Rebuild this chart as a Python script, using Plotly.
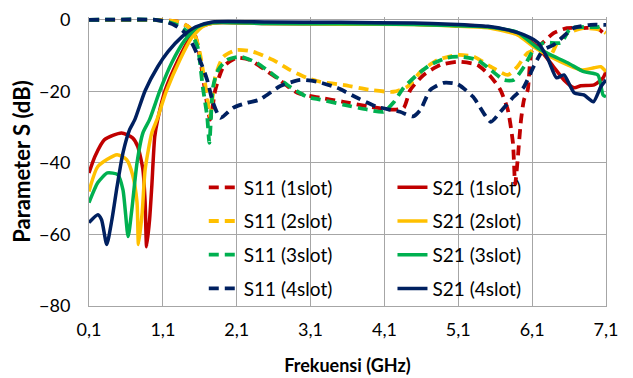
import plotly.graph_objects as go

# ---------------- data ----------------
tick_vals = [0.1, 1.1, 2.1, 3.1, 4.1, 5.1, 6.1, 7.1]
tick_text = ["0,1", "1,1", "2,1", "3,1", "4,1", "5,1", "6,1", "7,1"]
y_ticks = [0, -20, -40, -60, -80]

f_s11_1 = [0.1, 0.5, 1.0, 1.3, 1.45, 1.54, 1.6, 1.67, 1.74, 1.81, 1.92, 2.1, 2.28, 2.42, 2.64, 2.92, 3.23,
           3.54, 3.91, 4.22, 4.36, 4.45, 4.63, 4.86, 5.09, 5.36, 5.54, 5.67, 5.77, 5.84, 5.87, 5.9, 5.95,
           5.99, 6.04, 6.1, 6.21, 6.39, 6.57, 6.79, 6.98, 7.1]
s11_1 = [0, 0, -0.1, -0.5, -2, -4.5, -10.3, -19.6, -27.9, -19.6, -13.1, -10.6, -11.2, -13.1, -16.2, -20.4,
         -21.8, -22.9, -24.3, -25.1, -24.6, -19.6, -15.4, -12.6, -11.7, -12.6, -15.9, -19.6, -25.1, -34.4,
         -46, -40, -27.9, -22.3, -19.6, -8.4, -7, -3.7, -2.3, -2.3, -2.3, -4.5]

f_s11_2 = [0.1, 1.0, 1.3, 1.45, 1.54, 1.6, 1.67, 1.71, 1.74, 1.81, 1.92, 2.1, 2.32, 2.59, 2.82, 3.05, 3.23,
           3.54, 3.91, 4.22, 4.41, 4.59, 4.82, 5.09, 5.31, 5.54, 5.77, 5.9, 6.04, 6.21, 6.35, 6.44, 6.58,
           6.8, 7.03, 7.1]
s11_2 = [0, -0.1, -0.5, -2, -4.7, -9.2, -17.6, -23, -27, -15.9, -10.3, -8.4, -8.9, -11.2, -14, -16.2, -17.3,
         -18.2, -19.6, -20.1, -18.7, -14.5, -11.2, -9.8, -10.3, -13.1, -15.4, -13.1, -9.2, -8.4, -9.8, -6.4,
         -3.7, -2.3, -2.8, -3.7]

f_s11_3 = [0.1, 1.0, 1.17, 1.3, 1.49, 1.57, 1.64, 1.7, 1.73, 1.78, 1.85, 1.97, 2.15, 2.37, 2.6, 2.82, 3.05,
           3.23, 3.54, 3.87, 4.09, 4.22, 4.36, 4.54, 4.72, 4.95, 5.13, 5.36, 5.54, 5.72, 5.85, 5.99, 6.12,
           6.26, 6.49, 6.62, 6.8, 6.99, 7.1]
s11_3 = [0, 0, -0.6, -1.5, -4.2, -7.5, -18.7, -27, -34.4, -18.7, -14, -11.2, -10.3, -12, -15.4, -18.7, -21.5,
         -22.3, -23.7, -25.1, -25.7, -23.2, -19, -15.4, -12.6, -10.6, -10.3, -11.2, -14, -16.8, -16.8, -13.1,
         -8.4, -6.4, -6.4, -2.3, -2, -2, -1.4]

f_s11_4 = [0.1, 1.0, 1.13, 1.26, 1.36, 1.47, 1.6, 1.7, 1.78, 1.88, 2.05, 2.24, 2.41, 2.69, 2.96, 3.19, 3.46,
           3.73, 4.0, 4.31, 4.49, 4.59, 4.72, 4.9, 5.09, 5.3, 5.54, 5.67, 5.85, 5.98, 6.12, 6.25, 6.39, 6.52,
           6.66, 6.89, 7.1]
s11_4 = [0, 0, -0.5, -1.5, -2.8, -5.6, -11.2, -16.8, -23.2, -27.4, -24.6, -23.2, -22.3, -18.5, -16.8, -17.3,
         -19, -21.8, -24.3, -25.7, -27, -25.1, -19.6, -17.6, -18, -21.5, -28.5, -25.7, -21.5, -19, -13.1, -8.4,
         -7, -4.7, -2.3, -1.4, -1.4]

f_s21_1 = [0.1, 0.18, 0.31, 0.54, 0.69, 0.76, 0.83, 0.86, 0.88, 0.92, 0.95, 0.99, 1.03, 1.13, 1.3, 1.47, 1.6,
           1.8, 2.5, 3.5, 4.5, 5.0, 5.5, 5.9, 6.17, 6.39, 6.53, 6.67, 6.76, 6.94, 7.06, 7.1]
s21_1 = [-42.8, -38.2, -33.5, -31.6, -33, -35.4, -41.9, -51, -63.4, -55.9, -46.6, -32.7, -27.9, -19.8, -11.5,
         -5, -2, -0.8, -1, -1.1, -1.2, -1.4, -2, -3.7, -7.5, -13.1, -16.8, -19, -18.4, -18.2, -16.2, -14.5]

f_s21_2 = [0.1, 0.22, 0.48, 0.61, 0.69, 0.75, 0.77, 0.82, 0.86, 0.95, 1.02, 1.15, 1.33, 1.49, 1.63, 1.81,
           2.5, 3.5, 4.5, 5.0, 5.5, 5.9, 6.12, 6.35, 6.58, 6.76, 6.94, 7.03, 7.1]
s21_2 = [-48, -41, -37.7, -39.1, -43.3, -51, -62.8, -53.9, -41.9, -31.6, -27.9, -19.8, -11.2, -5, -2, -0.8,
         -1, -1.2, -1.3, -1.7, -2.2, -4.2, -7.5, -10.3, -12.6, -14, -13.4, -13.1, -14.5]

f_s21_3 = [0.1, 0.22, 0.35, 0.49, 0.56, 0.63, 0.68, 0.75, 0.83, 0.92, 1.06, 1.22, 1.4, 1.57, 1.77, 2.5, 3.5,
           4.5, 5.0, 5.5, 5.9, 6.17, 6.35, 6.58, 6.8, 6.99, 7.06, 7.1]
s21_3 = [-51.1, -45.5, -42.8, -43.3, -47.5, -60.6, -53, -40, -31.6, -27.9, -19.8, -12, -5.6, -2, -0.8, -1,
         -1.1, -1.3, -1.6, -2, -3.5, -7.8, -9.8, -12, -14.5, -15.4, -21, -21.5]

f_s21_4 = [0.1, 0.22, 0.27, 0.34, 0.41, 0.48, 0.56, 0.65, 0.72, 0.86, 1.03, 1.17, 1.36, 1.54, 1.77, 2.5, 3.5,
           4.5, 5.0, 5.5, 5.77, 5.99, 6.18, 6.32, 6.43, 6.53, 6.67, 6.8, 6.93, 7.03, 7.1]
s21_4 = [-56.7, -54.5, -55.9, -62.8, -55.9, -46.6, -37.2, -30.7, -27.9, -19.8, -13.1, -8.9, -4.7, -2, -0.6,
         -0.6, -0.7, -0.9, -1.2, -1.8, -2.8, -4.2, -6.4, -11.2, -16.2, -15.4, -20.4, -21, -22.9, -18.7, -16.8]

names_s11 = ["S11 (1slot)", "S11 (2slot)", "S11 (3slot)", "S11 (4slot)"]
names_s21 = ["S21 (1slot)", "S21 (2slot)", "S21 (3slot)", "S21 (4slot)"]
colors = ["#C00000", "#FFC000", "#00B050", "#002060"]

FONT = "Lato"

fig = go.Figure()
s11_x = [f_s11_1, f_s11_2, f_s11_3, f_s11_4]
s11_y = [s11_1, s11_2, s11_3, s11_4]
s21_x = [f_s21_1, f_s21_2, f_s21_3, f_s21_4]
s21_y = [s21_1, s21_2, s21_3, s21_4]

for i in range(4):
    fig.add_trace(go.Scatter(x=s11_x[i], y=s11_y[i], mode="lines", name=names_s11[i],
                             line=dict(color=colors[i], width=3.8, dash="10px,6px", shape="spline", smoothing=0.6),
                             legend="legend", legendgroup="a%d" % i))
for i in range(4):
    fig.add_trace(go.Scatter(x=s21_x[i], y=s21_y[i], mode="lines", name=names_s21[i],
                             line=dict(color=colors[i], width=3.5, shape="spline", smoothing=0.6),
                             legend="legend2", legendgroup="b%d" % i))

grid_c = "#A6A6A6"
leg_common = dict(bgcolor="rgba(0,0,0,0)", font=dict(family=FONT, size=19, color="#000"),
                  tracegroupgap=6, itemwidth=30, yanchor="top", xanchor="left", yref="paper", xref="paper")
# the page body adds an 8px offset, so the figure is sized to fit the remaining window
fig.update_layout(
    width=625, height=370,
    margin=dict(l=81, r=27, t=9, b=72),
    paper_bgcolor="white", plot_bgcolor="white",
    font=dict(family=FONT, color="#000"),
    legend=dict(x=0.222, y=0.476, **leg_common),
    legend2=dict(x=0.587, y=0.476, **leg_common),
    xaxis=dict(range=[0.1, 7.1], tickvals=tick_vals, ticktext=tick_text, showgrid=True, gridcolor=grid_c,
               gridwidth=1, showline=True, linecolor=grid_c, linewidth=1, zeroline=False, automargin=False,
               ticks="outside", ticklen=7, tickcolor="rgba(0,0,0,0)",
               tickfont=dict(family=FONT, size=18),
               title=dict(text="<b>Frekuensi (GHz)</b>", font=dict(family=FONT, size=18), standoff=20)),
    yaxis=dict(range=[-80, 0.8], tickvals=y_ticks, showgrid=True, gridcolor=grid_c, gridwidth=1,
               showline=True, mirror=True, linecolor=grid_c, linewidth=1, zeroline=False, automargin=False,
               ticks="outside", ticklen=14, tickcolor="rgba(0,0,0,0)",
               tickfont=dict(family=FONT, size=18),
               title=dict(text="<b>Parameter S (dB)</b>", font=dict(family=FONT, size=22), standoff=8)),
)

fig.write_html("out.html")
